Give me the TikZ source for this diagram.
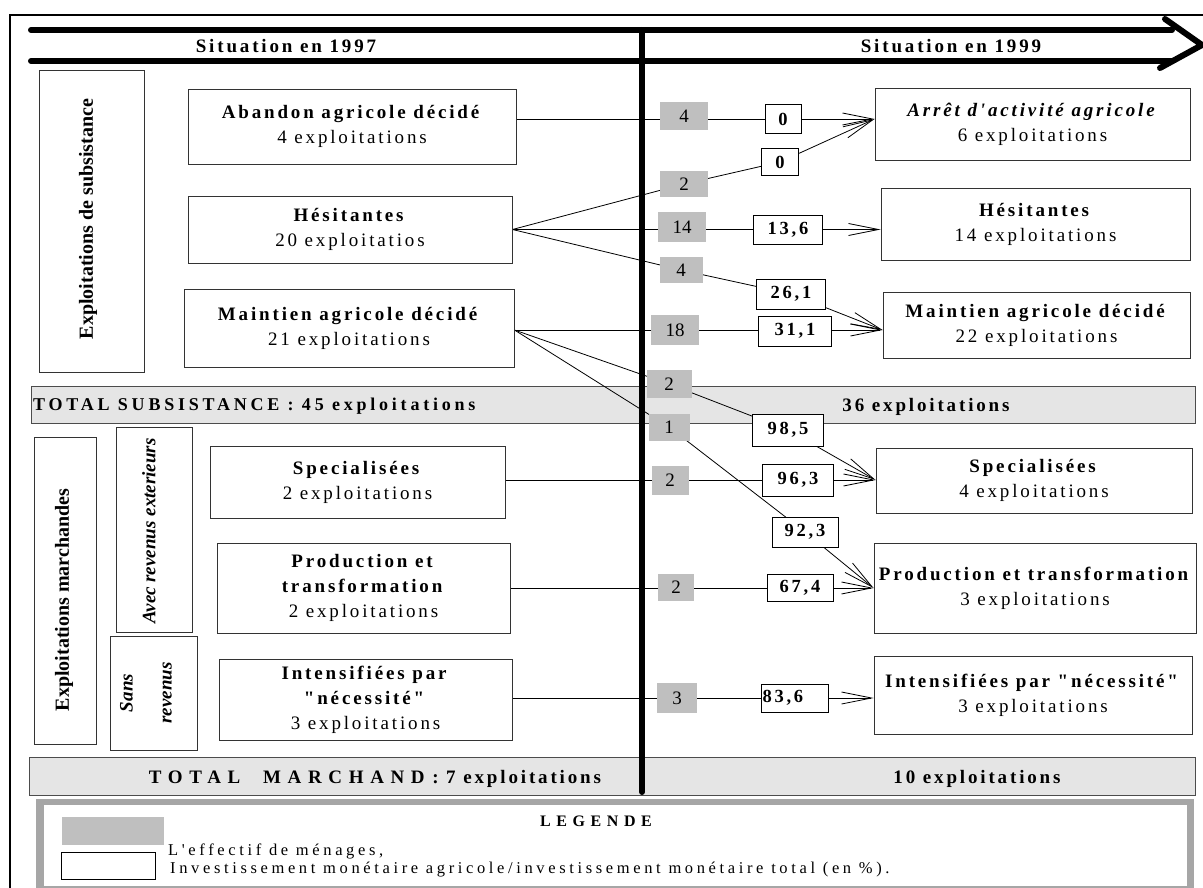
\documentclass[tikz,border=0pt]{standalone}
\usepackage{fontspec}
\setmainfont{Liberation Serif}[Ligatures=TeXOff]
\newfontfamily\lsf{Liberation Serif}[LetterSpace=15,Ligatures=TeXOff]
\newfontfamily\lst{Liberation Serif}[LetterSpace=21,Ligatures=TeXOff]
\newfontfamily\lsl{Liberation Serif}[LetterSpace=22,Ligatures=TeXOff]
\newfontfamily\lsw{Liberation Serif}[LetterSpace=35,Ligatures=TeXOff]
\usetikzlibrary{arrows.meta}
\pgfdeclarelayer{bands}
\pgfdeclarelayer{lines}
\pgfsetlayers{bands,lines,main}
\begin{document}
\begin{tikzpicture}[x=1pt,y=-1pt,
  sz/.style 2 args={minimum width=#1pt, minimum height=#2pt},
  box/.style={draw=black!80, line width=0.9pt, fill=white, align=center, inner sep=0pt, font=\lsf\fontsize{19}{25}\selectfont},
  side/.style={draw=black!80, line width=0.9pt, fill=white, inner sep=0pt},
  sidetxt/.style={rotate=90, align=center, inner sep=0pt, font=\bfseries\fontsize{20}{22}\selectfont},
  gbox/.style={fill=black!25, inner sep=0pt, font=\fontsize{19}{20}\selectfont},
  wbox/.style={draw=black, line width=0.9pt, fill=white, inner sep=0pt, font=\lsf\bfseries\fontsize{18.5}{20}\selectfont},
  band/.style={draw=black!70, line width=0.8pt, fill=black!10, inner sep=0pt},
  btxt/.style={inner sep=0pt, font=\lsf\bfseries\fontsize{19}{20}\selectfont},
  conn/.style={line width=0.8pt},
  arr/.style={line width=0.8pt, -{Straight Barb[length=30pt,width=12pt]}},
  heavy/.style={line width=6pt, line cap=round, line join=round}
]
\useasboundingbox (0,0) rectangle (1203,888);

% ---------- bands and legend background ----------
\begin{pgfonlayer}{bands}
\node[band, sz={1164}{37}] (bandS) at (613,404.5) {};
\node[band, sz={1166}{38}] (bandM) at (612,776) {};
\node[fill=black!35, inner sep=0pt, sz={1158}{96}] (legO) at (615,847) {};
\node[fill=white, inner sep=0pt, sz={1143}{81}] (legI) at (615.5,845.5) {};
\end{pgfonlayer}

% ---------- headers ----------
\node[btxt] (sit97) at (286,46) {Situation en 1997};
\node[btxt] (sit99) at (951,46) {Situation en 1999};

% ---------- side labels ----------
\node[side, sz={105}{302}] (subsLab) at (91.5,221) {};
\node[sidetxt] (subsTxt) at (88,219) {Exploitations de subsistance};
\node[side, sz={62}{307}] (marchLab) at (65,590.5) {};
\node[sidetxt] (marchTxt) at (64,600) {Exploitations marchandes};
\node[side, sz={76}{205}] (avecLab) at (154,529.5) {};
\node[sidetxt, font=\bfseries\itshape\fontsize{19}{21}\selectfont] (avecTxt) at (149,531) {Avec revenus exterieurs};
\node[side, sz={87}{114}] (sansLab) at (153.5,693) {};
\node[sidetxt, font=\bfseries\itshape\fontsize{19}{39}\selectfont] (sansTxt) at (146,693) {Sans\\revenus};

% ---------- left boxes (1997) ----------
\node[box, sz={328}{75}] (abandonL) at (352,126.5) {\textbf{Abandon agricole décidé}\\4 exploitations};
\node[box, sz={324}{67}] (hesL) at (350,229.5) {\textbf{Hésitantes}\\20 exploitatios};
\node[box, sz={330}{78}] (maintL) at (349,328) {\textbf{Maintien agricole décidé}\\21 exploitations};
\node[box, sz={295}{72}] (specL) at (357.5,482) {\textbf{Specialisées}\\2 exploitations};
\node[box, sz={293}{90}] (prodL) at (363.5,588) {\textbf{Production et}\\\textbf{transformation}\\2 exploitations};
\node[box, sz={293}{81}] (intL) at (365.5,699.5) {\textbf{Intensifiées par}\\\textbf{"nécessité"}\\3 exploitations};

% ---------- right boxes (1999) ----------
\node[box, sz={315}{72}] (arretR) at (1032.5,124) {\textbf{\textit{Arrêt d'activité agricole}}\\6 exploitations};
\node[box, sz={309}{72}] (hesR) at (1035.5,224) {\textbf{Hésitantes}\\14 exploitations};
\node[box, sz={307}{66}] (maintR) at (1036.5,325) {\textbf{Maintien agricole décidé}\\22 exploitations};
\node[box, sz={316}{65}] (specR) at (1034,480.5) {\textbf{Specialisées}\\4 exploitations};
\node[box, sz={322}{90}] (prodR) at (1035,588) {\textbf{Production et transformation}\\3 exploitations};
\node[box, sz={318}{78}] (intR) at (1033,695) {\textbf{Intensifiées par "nécessité"}\\3 exploitations};

% ---------- household counts (grey) ----------
\node[gbox, sz={48}{28}] (g4a) at (684,116) {4};
\node[gbox, sz={48}{26}] (g2a) at (684,184) {2};
\node[gbox, sz={48}{30}] (g14) at (682,227) {14};
\node[gbox, sz={43}{26}] (g4b) at (681,270) {4};
\node[gbox, sz={48}{30}] (g18) at (675,330) {18};
\node[gbox, sz={45}{28}] (g2c) at (669,384) {2};
\node[gbox, sz={41}{27}] (g1c) at (669,427) {1};
\node[gbox, sz={37}{29}] (g2d) at (670,480) {2};
\node[gbox, sz={36}{27}] (g2e) at (676,587) {2};
\node[gbox, sz={40}{30}] (g3) at (677,698) {3};

% ---------- investment ratios (white) ----------
\node[wbox, sz={36}{29}] (w0a) at (783,119) {0};
\node[wbox, sz={37}{27}] (w0b) at (780,162) {0};
\node[wbox, sz={69}{29}] (w136) at (788,229.5) {13,6};
\node[wbox, sz={69}{30}] (w261) at (791,294) {26,1};
\node[wbox, sz={73}{30}] (w311) at (795,331) {31,1};
\node[wbox, sz={71}{32}] (w985) at (788,430) {98,5};
\node[wbox, sz={71}{32}] (w963) at (798,480) {96,3};
\node[wbox, sz={66}{30}] (w923) at (805,532) {92,3};
\node[wbox, sz={66}{27}] (w674) at (800,588) {67,4};
\node[wbox, sz={67}{28}, text width=65pt, align=left] (w836) at (795,698) {83,6};

% ---------- band texts ----------
\node[btxt, font=\lst\bfseries\fontsize{18}{20}\selectfont, anchor=west] (tS1) at (33,406) {TOTAL SUBSISTANCE : 45 exploitations};
\node[btxt] (tS2) at (926,407) {36 exploitations};
\node[btxt] (tM1) at (375,779) {{\lsw TOTAL\ \ MARCHAND} : 7 exploitations};
\node[btxt] (tM2) at (977,779) {10 exploitations};

% ---------- legend ----------
\node[inner sep=0pt, font=\lsw\bfseries\fontsize{16}{18}\selectfont] (legT) at (596,821) {LEGENDE};
\node[fill=black!25, inner sep=0pt, sz={102}{28}] (legG) at (113,831) {};
\node[anchor=west, inner sep=0pt, font=\lsl\fontsize{16.5}{18}\selectfont] (legGt) at (168,851) {L'effectif de ménages,};
\node[draw=black, line width=0.8pt, fill=white, inner sep=0pt, sz={94}{27}] (legW) at (108,865.5) {};
\node[anchor=west, inner sep=0pt, font=\lsl\fontsize{16.5}{18}\selectfont] (legWt) at (170,870) {Investissement monétaire agricole/investissement monétaire total (en \%).};

\coordinate (tipA) at (arretR.west |- w0a);
\coordinate (tipM) at (maintR.west |- g18);
\coordinate (tipS) at (specR.west |- w963);

% ---------- lines ----------
\begin{pgfonlayer}{lines}
\draw[line width=2pt] (10,888) -- (10,15) -- (1203,15);
\draw[heavy] (31,30) -- (1172,30);
\draw[heavy] (31,61) -- (1172,61);
\draw[heavy] (1165,19) -- (1202,45) -- (1160,68);
\draw[heavy] (642,30) -- (642,792);

% Abandon
\draw[conn] (abandonL.east |- w0a) -- (w0a.west);
\draw[arr] (w0a.east) -- (tipA);
% Hesitantes
\draw[conn] (hesL.east) -- (g2a.center) -- (w0b.center);
\draw[arr] (w0b) -- (tipA);
\draw[conn] (hesL.east) -- (w136.west);
\draw[arr] (w136.east) -- (hesR.west |- w136);
\draw[conn] (hesL.east) -- (g4b.center) -- (w261.center);
\draw[arr] (w261) -- (tipM);
% Maintien
\draw[conn] (maintL.east |- g18) -- (w311.west |- g18);
\draw[arr] (w311.east |- g18) -- (tipM);
\draw[conn] (maintL.east |- g18) -- (g2c.center) -- (w985.center);
\draw[arr] (w985) -- (tipS);
\draw[conn] (maintL.east |- g18) -- (g1c.center) -- (w923.center);
\draw[arr] (w923) -- (prodR.west);
% Marchandes
\draw[conn] (specL.east |- w963) -- (w963.west);
\draw[arr] (w963.east) -- (tipS);
\draw[conn] (prodL.east |- w674) -- (w674.west);
\draw[arr] (w674.east) -- (prodR.west);
\draw[conn] (intL.east |- w836) -- (w836.west);
\draw[arr] (w836.east) -- (intR.west |- w836);
\end{pgfonlayer}
\end{tikzpicture}
\end{document}
